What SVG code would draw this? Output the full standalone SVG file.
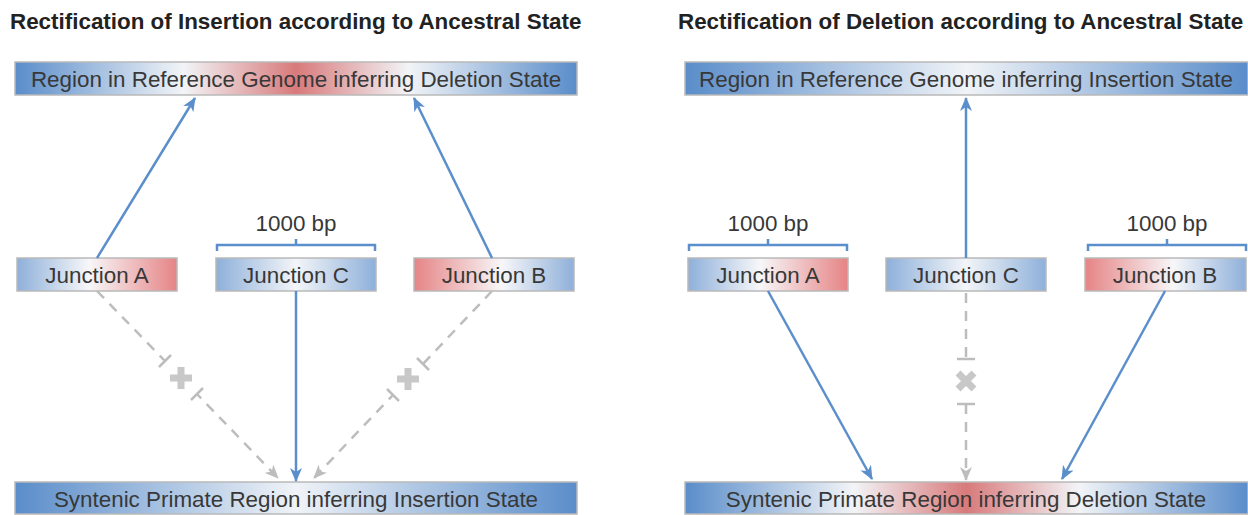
<svg xmlns="http://www.w3.org/2000/svg" width="1248" height="515" viewBox="0 0 1248 515">
<defs>
<linearGradient id="gBRB" x1="0" y1="0" x2="1" y2="0">
<stop offset="0" stop-color="#5a8dca"/><stop offset="0.3" stop-color="#f2f4f7"/><stop offset="0.5" stop-color="#d87a7b"/><stop offset="0.7" stop-color="#f2f4f7"/><stop offset="1" stop-color="#5a8dca"/>
</linearGradient>
<linearGradient id="gBWB" x1="0" y1="0" x2="1" y2="0">
<stop offset="0" stop-color="#5a8dca"/><stop offset="0.5" stop-color="#f0f3f7"/><stop offset="1" stop-color="#5a8dca"/>
</linearGradient>
<linearGradient id="gJA" x1="0" y1="0" x2="1" y2="0">
<stop offset="0" stop-color="#8eb0da"/><stop offset="0.45" stop-color="#f7f7f9"/><stop offset="1" stop-color="#e68485"/>
</linearGradient>
<linearGradient id="gJB" x1="0" y1="0" x2="1" y2="0">
<stop offset="0" stop-color="#e68485"/><stop offset="0.55" stop-color="#f7f7f9"/><stop offset="1" stop-color="#8eb0da"/>
</linearGradient>
<linearGradient id="gJC" x1="0" y1="0" x2="1" y2="0">
<stop offset="0" stop-color="#8eb0da"/><stop offset="0.5" stop-color="#f3f5f8"/><stop offset="1" stop-color="#8eb0da"/>
</linearGradient>
<marker id="ab" viewBox="0 0 14 12" refX="13" refY="6" markerWidth="14" markerHeight="12" markerUnits="userSpaceOnUse" orient="auto">
<path d="M0,0 L14,6 L0,12 L4,6 z" fill="#5b8fcb"/>
</marker>
<marker id="ag" viewBox="0 0 14 12" refX="13" refY="6" markerWidth="14" markerHeight="12" markerUnits="userSpaceOnUse" orient="auto">
<path d="M0,0 L14,6 L0,12 L4,6 z" fill="#bdbdbd"/>
</marker>
</defs>
<style>
.title{font-family:"Liberation Sans",Arial,sans-serif;font-weight:bold;font-size:22.4px;fill:#222}
.lbl{font-family:"Liberation Sans",Arial,sans-serif;font-size:22.4px;fill:#383838;text-anchor:middle}
.box{stroke:#b9b9b9;stroke-width:1.5}
.blue{stroke:#5b8fcb;stroke-width:2.5;fill:none}
.gray{stroke:#bdbdbd;stroke-width:2.5;fill:none;stroke-dasharray:10 8}
.tick{stroke:#bdbdbd;stroke-width:2.5;fill:none}
.sym{stroke:#c8c8c8;stroke-width:7;fill:none}
</style>

<text class="title" x="10" y="28.5">Rectification of Insertion according to Ancestral State</text>
<text class="title" x="678" y="28.5">Rectification of Deletion according to Ancestral State</text>

<g id="L_top"><rect class="box" x="15" y="62" width="562" height="33" fill="url(#gBRB)"/><text class="lbl" x="296" y="86.5">Region in Reference Genome inferring Deletion State</text></g>
<g id="L_bottom"><rect class="box" x="15" y="482" width="562" height="32" fill="url(#gBWB)"/><text class="lbl" x="296" y="506.5">Syntenic Primate Region inferring Insertion State</text></g>
<g id="L_JA"><rect class="box" x="17" y="258" width="160" height="33" fill="url(#gJA)"/><text class="lbl" x="97" y="282.5">Junction A</text></g>
<g id="L_JC"><rect class="box" x="216" y="258" width="160" height="33" fill="url(#gJC)"/><text class="lbl" x="296" y="282.5">Junction C</text></g>
<g id="L_JB"><rect class="box" x="414" y="258" width="160" height="33" fill="url(#gJB)"/><text class="lbl" x="494" y="282.5">Junction B</text></g>
<g id="L_bp"><path class="blue" d="M217,251 V245 H375 V251 M296,245 V239"/><text class="lbl" x="296" y="231">1000 bp</text></g>

<g id="R_top"><rect class="box" x="685" y="62" width="563" height="33" fill="url(#gBWB)"/><text class="lbl" x="966" y="86.5">Region in Reference Genome inferring Insertion State</text></g>
<g id="R_bottom"><rect class="box" x="685" y="482" width="563" height="32" fill="url(#gBRB)"/><text class="lbl" x="966" y="506.5">Syntenic Primate Region inferring Deletion State</text></g>
<g id="R_JA"><rect class="box" x="688" y="258" width="160" height="33" fill="url(#gJA)"/><text class="lbl" x="768" y="282.5">Junction A</text></g>
<g id="R_JC"><rect class="box" x="886" y="258" width="160" height="33" fill="url(#gJC)"/><text class="lbl" x="966" y="282.5">Junction C</text></g>
<g id="R_JB"><rect class="box" x="1085" y="258" width="161" height="33" fill="url(#gJB)"/><text class="lbl" x="1165" y="282.5">Junction B</text></g>
<g id="R_bpA"><path class="blue" d="M689,251 V245 H847 V251 M768,245 V239"/><text class="lbl" x="768" y="231">1000 bp</text></g>
<g id="R_bpB"><path class="blue" d="M1088,251 V245 H1246 V251 M1167,245 V239"/><text class="lbl" x="1167" y="231">1000 bp</text></g>

<g id="connectors">
<line class="blue" x1="97" y1="258" x2="195" y2="98" marker-end="url(#ab)"/>
<line class="blue" x1="492" y1="258" x2="414" y2="98" marker-end="url(#ab)"/>
<line class="blue" x1="296" y1="291" x2="296" y2="481" marker-end="url(#ab)"/>
<line class="gray" x1="97" y1="291" x2="165" y2="361"/>
<line class="tick" x1="159" y1="367" x2="171" y2="355"/>
<line class="tick" x1="191" y1="400" x2="203" y2="388"/>
<line class="gray" x1="197" y1="394" x2="278" y2="478" stroke-dashoffset="4" marker-end="url(#ag)"/>
<path class="sym" d="M170,378 H192 M181,367 V389"/>
<line class="gray" x1="492" y1="291" x2="423" y2="364"/>
<line class="tick" x1="417" y1="358" x2="429" y2="370"/>
<line class="tick" x1="387" y1="389" x2="399" y2="401"/>
<line class="gray" x1="393" y1="395" x2="314" y2="478" stroke-dashoffset="4" marker-end="url(#ag)"/>
<path class="sym" d="M397,379 H419 M408,368 V390"/>

<line class="blue" x1="966" y1="258" x2="966" y2="98" marker-end="url(#ab)"/>
<line class="blue" x1="768" y1="291" x2="872" y2="479" marker-end="url(#ab)"/>
<line class="blue" x1="1165" y1="291" x2="1062" y2="479" marker-end="url(#ab)"/>
<line class="gray" x1="966" y1="293" x2="966" y2="359"/>
<line class="tick" x1="957" y1="359" x2="975" y2="359"/>
<line class="tick" x1="957" y1="404" x2="975" y2="404"/>
<line class="gray" x1="966" y1="404" x2="966" y2="480" marker-end="url(#ag)"/>
<path class="sym" d="M958,373 L974,389 M974,373 L958,389"/>
</g>
</svg>
